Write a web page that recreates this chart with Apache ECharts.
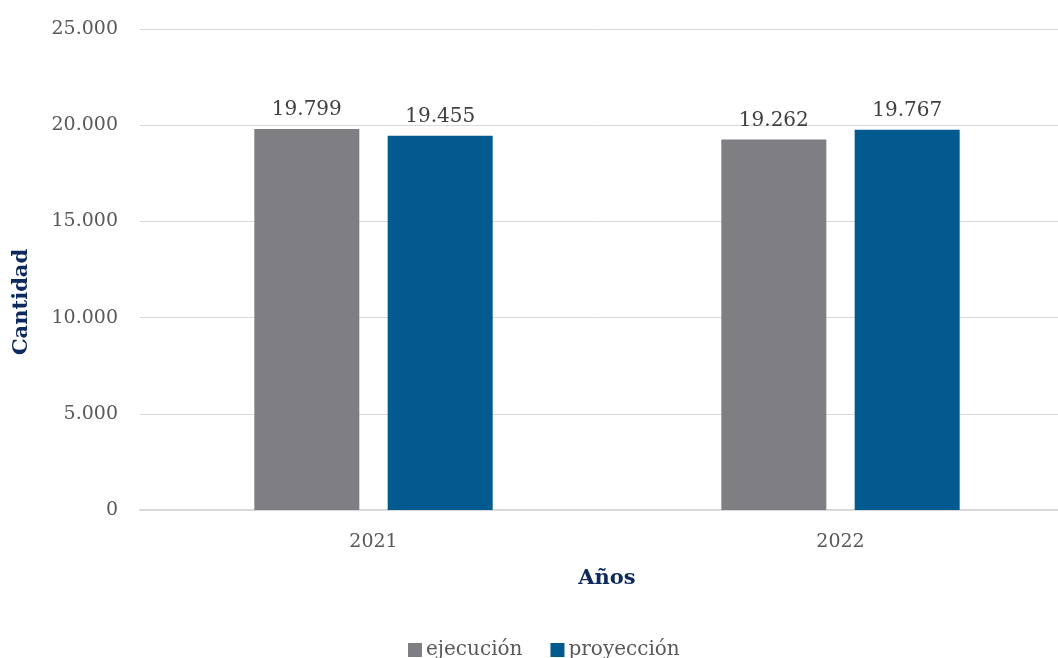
<!DOCTYPE html>
<html>
<head>
<meta charset="utf-8">
<script src="https://cdn.jsdelivr.net/npm/echarts@6/dist/echarts.min.js"></script>
<style>html,body{margin:0;padding:0;background:#fff}#c{width:1058px;height:658px}</style>
</head>
<body>
<div id="c"></div>
<script>
const categories = ['2021', '2022'];
const ejecucion = [19799, 19262];
const proyeccion = [19455, 19767];
const seriesNames = ['ejecución', 'proyección'];
const yMin = 0, yMax = 25000, yInterval = 5000;

const FONT = 'DejaVu Serif';
const fmt = v => String(v).replace(/\B(?=(\d{3})+(?!\d))/g, '.');

const chart = echarts.init(document.getElementById('c'), null, {renderer: 'canvas'});
chart.setOption({
  animation: false,
  backgroundColor: '#fff',
  textStyle: {fontFamily: FONT},
  grid: {left: 140, top: 29, width: 934, height: 481, containLabel: false, outerBoundsMode: 'none'},
  legend: {
    data: seriesNames,
    top: 635, left: 403,
    itemWidth: 14, itemHeight: 14, itemGap: 28,
    icon: 'rect',
    textStyle: {fontFamily: FONT, fontSize: 20, color: '#595959', padding: [0,0,0,-1]}
  },
  xAxis: {
    type: 'category',
    data: categories,
    name: 'Años',
    nameLocation: 'middle',
    nameGap: 58,
    nameTextStyle: {fontFamily: FONT, fontSize: 21, fontWeight: 'bold', color: '#0e2a5c'},
    axisLine: {lineStyle: {color: '#d9d9d9', width: 2}},
    axisTick: {show: false},
    axisLabel: {fontFamily: FONT, fontSize: 19, color: '#595959', margin: 23}
  },
  yAxis: {
    type: 'value',
    min: yMin, max: yMax, interval: yInterval,
    axisLine: {show: false},
    axisTick: {show: false},
    splitLine: {lineStyle: {color: '#d9d9d9', width: 1}},
    axisLabel: {fontFamily: FONT, fontSize: 19, color: '#595959', margin: 22, formatter: v => fmt(v)}
  },
  graphic: [{
    type: 'text',
    x: 22, y: 302,
    rotation: Math.PI / 2,
    style: {
      text: 'Cantidad',
      font: 'bold 21px "' + FONT + '"',
      fill: '#0e2a5c',
      textAlign: 'center',
      textVerticalAlign: 'middle'
    }
  }],
  series: [
    {
      name: seriesNames[0], type: 'bar', data: ejecucion,
      barWidth: 105, barGap: '27%',
      itemStyle: {color: '#7f7f83'},
      label: {show: true, position: 'top', distance: 9, fontFamily: FONT, fontSize: 20, color: '#404040', formatter: p => fmt(p.value)}
    },
    {
      name: seriesNames[1], type: 'bar', data: proyeccion,
      barWidth: 105, barGap: '27%',
      itemStyle: {color: '#025a8f'},
      label: {show: true, position: 'top', distance: 9, fontFamily: FONT, fontSize: 20, color: '#404040', formatter: p => fmt(p.value)}
    }
  ]
});
</script>
</body>
</html>
